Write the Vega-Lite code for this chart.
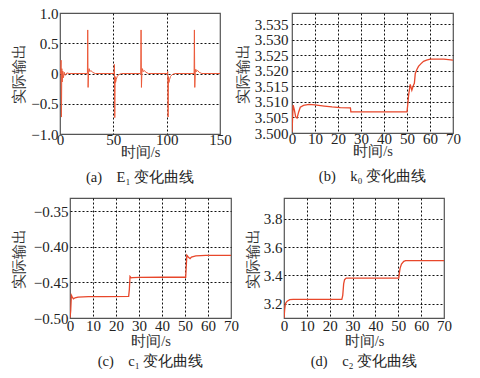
{
  "$schema": "https://vega.github.io/schema/vega-lite/v6.json",
  "padding": {"left": 2, "top": 5, "right": 0, "bottom": 0},
  "background": "white",
  "datasets": {
    "none": [],
    "E1": [
      {"t": 0, "v": 0}, {"t": 0.7, "v": 0}, {"t": 1.0, "v": 0.22}, {"t": 1.35, "v": -0.72}, {"t": 1.7, "v": 0.08},
      {"t": 2.1, "v": -0.14}, {"t": 2.6, "v": 0.04}, {"t": 3.2, "v": -0.07}, {"t": 4.0, "v": 0.02}, {"t": 5.0, "v": -0.03},
      {"t": 6.5, "v": 0.01}, {"t": 8.5, "v": 0},
      {"t": 25.7, "v": 0}, {"t": 26.0, "v": 0.72}, {"t": 26.35, "v": -0.23}, {"t": 26.8, "v": 0.02}, {"t": 27.3, "v": 0.08},
      {"t": 28.0, "v": 0.03}, {"t": 29.0, "v": 0.05}, {"t": 30.5, "v": 0.02}, {"t": 33.0, "v": 0},
      {"t": 50.7, "v": 0}, {"t": 51.0, "v": 0.15}, {"t": 51.35, "v": -0.73}, {"t": 51.7, "v": -0.05}, {"t": 52.1, "v": -0.15},
      {"t": 52.7, "v": -0.1}, {"t": 53.6, "v": -0.05}, {"t": 55.0, "v": -0.02}, {"t": 57.5, "v": 0},
      {"t": 75.7, "v": 0}, {"t": 76.0, "v": 0.72}, {"t": 76.35, "v": -0.23}, {"t": 76.8, "v": 0.02}, {"t": 77.3, "v": 0.08},
      {"t": 78.0, "v": 0.03}, {"t": 79.0, "v": 0.05}, {"t": 80.5, "v": 0.02}, {"t": 83.0, "v": 0},
      {"t": 100.7, "v": 0}, {"t": 101.0, "v": 0.03}, {"t": 101.35, "v": -0.72}, {"t": 101.7, "v": -0.05}, {"t": 102.1, "v": -0.15},
      {"t": 102.7, "v": -0.1}, {"t": 103.6, "v": -0.05}, {"t": 105.0, "v": -0.02}, {"t": 107.5, "v": 0},
      {"t": 125.7, "v": 0}, {"t": 126.0, "v": 0.72}, {"t": 126.35, "v": -0.23}, {"t": 126.8, "v": 0.02}, {"t": 127.3, "v": 0.07},
      {"t": 128.0, "v": 0.03}, {"t": 129.0, "v": 0.05}, {"t": 130.5, "v": 0.02}, {"t": 133.0, "v": 0},
      {"t": 150, "v": 0}
    ],
    "k0": [
      {"t": 0, "v": 3.5003}, {"t": 0.5, "v": 3.509}, {"t": 1.0, "v": 3.5075}, {"t": 1.6, "v": 3.5052}, {"t": 2.2, "v": 3.5048},
      {"t": 2.9, "v": 3.5068}, {"t": 3.6, "v": 3.5083}, {"t": 5, "v": 3.5089}, {"t": 7.4, "v": 3.5092}, {"t": 10, "v": 3.5091},
      {"t": 14, "v": 3.5087}, {"t": 17.4, "v": 3.5084}, {"t": 21, "v": 3.5082}, {"t": 25.4, "v": 3.5081}, {"t": 25.6, "v": 3.5068},
      {"t": 30, "v": 3.5068}, {"t": 40, "v": 3.5068}, {"t": 50, "v": 3.5068}, {"t": 50.3, "v": 3.509}, {"t": 50.7, "v": 3.5122},
      {"t": 51.4, "v": 3.5157}, {"t": 52.1, "v": 3.5138}, {"t": 52.8, "v": 3.5154}, {"t": 53.2, "v": 3.516}, {"t": 53.6, "v": 3.5192},
      {"t": 54.3, "v": 3.5205}, {"t": 55, "v": 3.5215}, {"t": 56, "v": 3.5223}, {"t": 57.2, "v": 3.5231}, {"t": 58.5, "v": 3.5235},
      {"t": 60.1, "v": 3.5238}, {"t": 66, "v": 3.5238}, {"t": 70, "v": 3.5235}
    ],
    "c1": [
      {"t": 0, "v": -0.4995}, {"t": 0.3, "v": -0.49}, {"t": 0.6, "v": -0.468}, {"t": 1.0, "v": -0.4705}, {"t": 1.5, "v": -0.473},
      {"t": 2.2, "v": -0.4715}, {"t": 3.5, "v": -0.4705}, {"t": 8, "v": -0.47}, {"t": 15, "v": -0.4698}, {"t": 25.5, "v": -0.4696},
      {"t": 25.8, "v": -0.46}, {"t": 26.1, "v": -0.4416}, {"t": 26.6, "v": -0.4435}, {"t": 27.2, "v": -0.443}, {"t": 30, "v": -0.4427},
      {"t": 40, "v": -0.4426}, {"t": 50.3, "v": -0.4426}, {"t": 50.5, "v": -0.43}, {"t": 50.8, "v": -0.4115}, {"t": 51.4, "v": -0.414},
      {"t": 52.2, "v": -0.4164}, {"t": 52.8, "v": -0.4141}, {"t": 54.7, "v": -0.4126}, {"t": 59, "v": -0.4117}, {"t": 70, "v": -0.4118}
    ],
    "c2": [
      {"t": 0, "v": 3.1}, {"t": 0.3, "v": 3.16}, {"t": 0.6, "v": 3.2}, {"t": 1.0, "v": 3.21}, {"t": 1.4, "v": 3.219},
      {"t": 2.5, "v": 3.229}, {"t": 4, "v": 3.231}, {"t": 25.3, "v": 3.231}, {"t": 25.7, "v": 3.26}, {"t": 26.1, "v": 3.34},
      {"t": 26.5, "v": 3.37}, {"t": 27.2, "v": 3.381}, {"t": 50.2, "v": 3.381}, {"t": 50.5, "v": 3.42}, {"t": 50.8, "v": 3.452},
      {"t": 51.4, "v": 3.48}, {"t": 52.4, "v": 3.499}, {"t": 53.2, "v": 3.505}, {"t": 70, "v": 3.505}
    ]
  },
  "columns": 3,
  "align": {"row": "each", "column": "none"},
  "spacing": {"row": 12, "column": 2},
  "concat": [
    {
      "width": 6, "height": 1,
      "data": {"name": "none"},
      "mark": {"type": "point", "opacity": 0},
      "view": {"stroke": null}
    },
    {
      "width": 160, "height": 121,
      "data": {"name": "E1"},
      "mark": {"type": "line", "color": "#EC5A3A", "strokeWidth": 1, "clip": true},
      "encoding": {
        "x": {"field": "t", "type": "quantitative", "scale": {"domain": [0, 150], "nice": false, "zero": false},
          "axis": {"values": [0, 50, 100, 150], "title": "时间/s", "titleX": 80, "titleY": 11, "labelPadding": -2,
            "gridOpacity": {"condition": {"test": "datum.value <= 0 || datum.value >= 150", "value": 0}, "value": 1}}},
        "y": {"field": "v", "type": "quantitative", "scale": {"domain": [-1, 1], "nice": false, "zero": false},
          "axis": {"values": [-1, -0.5, 0, 0.5, 1], "title": "实际输出", "titleX": -34, "titleY": 60.5, "labelPadding": 2,
            "labelExpr": "datum.value == 0 ? '0' : format(datum.value, '.1f')",
            "gridOpacity": {"condition": {"test": "datum.value <= -1 || datum.value >= 1", "value": 0}, "value": 1}}}
      },
      "title": {"text": "(a)\u2003E₁ 变化曲线", "offset": 12}
    },
    {
      "width": 161, "height": 120,
      "data": {"name": "k0"},
      "mark": {"type": "line", "color": "#E8472B", "strokeWidth": 1.3, "clip": true},
      "encoding": {
        "x": {"field": "t", "type": "quantitative", "scale": {"domain": [0, 70], "nice": false, "zero": false},
          "axis": {"values": [0, 10, 20, 30, 40, 50, 60, 70], "title": "时间/s", "titleX": 80.5, "titleY": 11, "labelPadding": -2,
            "gridOpacity": {"condition": {"test": "datum.value <= 0 || datum.value >= 70", "value": 0}, "value": 1}}},
        "y": {"field": "v", "type": "quantitative", "scale": {"domain": [3.5, 3.5387], "nice": false, "zero": false},
          "axis": {"values": [3.5, 3.505, 3.51, 3.515, 3.52, 3.525, 3.53, 3.535], "format": ".3f", "title": "实际输出", "titleX": -42, "titleY": 60, "labelPadding": 4,
            "gridOpacity": {"condition": {"test": "datum.value <= 3.5001", "value": 0}, "value": 1}}}
      },
      "title": {"text": "(b)\u2003k₀ 变化曲线", "offset": 12}
    },
    {
      "width": 6, "height": 1,
      "data": {"name": "none"},
      "mark": {"type": "point", "opacity": 0},
      "view": {"stroke": null}
    },
    {
      "width": 161, "height": 120,
      "data": {"name": "c1"},
      "mark": {"type": "line", "color": "#E8472B", "strokeWidth": 1.3, "clip": true},
      "encoding": {
        "x": {"field": "t", "type": "quantitative", "scale": {"domain": [0, 70], "nice": false, "zero": false},
          "axis": {"values": [0, 10, 20, 30, 40, 50, 60, 70], "title": "时间/s", "titleX": 80.5, "titleY": 16, "labelPadding": 0,
            "gridOpacity": {"condition": {"test": "datum.value <= 0 || datum.value >= 70", "value": 0}, "value": 1}}},
        "y": {"field": "v", "type": "quantitative", "scale": {"domain": [-0.5, -0.331], "nice": false, "zero": false},
          "axis": {"values": [-0.5, -0.45, -0.4, -0.35], "format": ".2f", "title": "实际输出", "titleX": -44, "titleY": 60, "labelPadding": 2,
            "gridOpacity": {"condition": {"test": "datum.value <= -0.4999", "value": 0}, "value": 1}}}
      },
      "title": {"text": "(c)\u2003c₁ 变化曲线", "offset": 7}
    },
    {
      "width": 160, "height": 120,
      "data": {"name": "c2"},
      "mark": {"type": "line", "color": "#E8472B", "strokeWidth": 1.3, "clip": true},
      "encoding": {
        "x": {"field": "t", "type": "quantitative", "scale": {"domain": [0, 70], "nice": false, "zero": false},
          "axis": {"values": [0, 10, 20, 30, 40, 50, 60, 70], "title": "时间/s", "titleX": 80, "titleY": 16, "labelPadding": 0,
            "gridOpacity": {"condition": {"test": "datum.value <= 0 || datum.value >= 70", "value": 0}, "value": 1}}},
        "y": {"field": "v", "type": "quantitative", "scale": {"domain": [3.1, 3.946], "nice": false, "zero": false},
          "axis": {"values": [3.2, 3.4, 3.6, 3.8], "format": ".1f", "title": "实际输出", "titleX": -24, "titleY": 60, "labelPadding": 2}}
      },
      "title": {"text": "(d)\u2003c₂ 变化曲线", "offset": 7}
    }
  ],
  "config": {
    "view": {"stroke": "#555", "strokeWidth": 1.2},
    "axis": {
      "labelFont": "Liberation Serif", "labelFontSize": 15, "labelColor": "#222", "labelFlush": false,
      "titleFont": "Liberation Serif", "titleFontSize": 14.5, "titleFontWeight": "normal", "titleColor": "#333",
      "domain": false, "ticks": false,
      "grid": true, "gridColor": "#111", "gridDash": [2, 2], "gridWidth": 1
    },
    "title": {
      "orient": "bottom", "anchor": "middle", "frame": "group",
      "font": "Liberation Serif", "fontSize": 14.5, "fontWeight": "normal", "color": "#222"
    }
  }
}
